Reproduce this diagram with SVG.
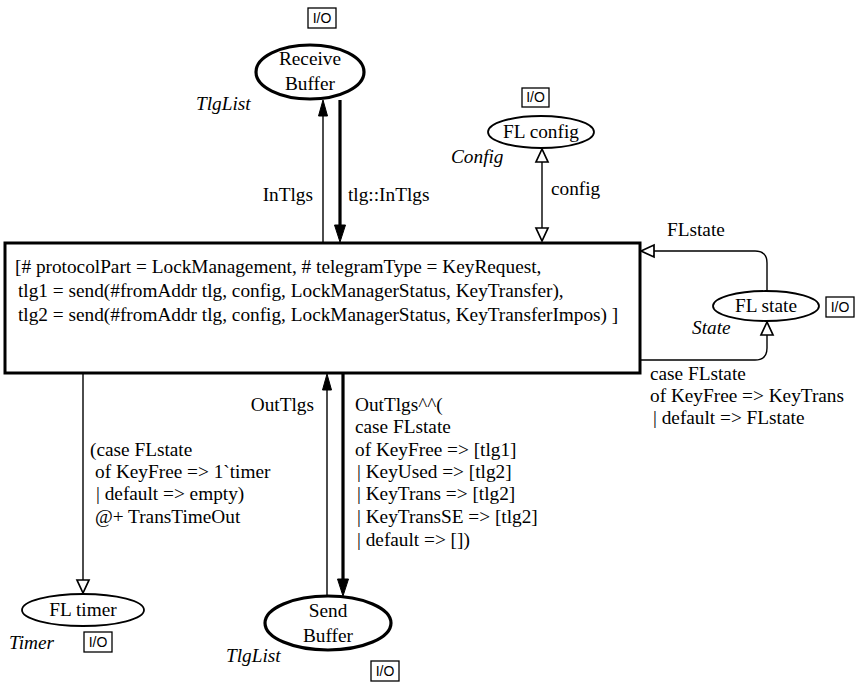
<svg xmlns="http://www.w3.org/2000/svg" width="858" height="685" viewBox="0 0 858 685">
<style>
text{font-family:"Liberation Serif","Times New Roman",serif;font-size:19.3px;fill:#000}
.it{font-style:italic}
.io{font-family:"Liberation Sans",Arial,sans-serif;font-size:14px}
.iobox{fill:#fff;stroke:#000;stroke-width:1.3}
.thin{fill:none;stroke:#000;stroke-width:1.4}
.thick{fill:none;stroke:#000;stroke-width:3.2}
.fh{fill:#000;stroke:#000;stroke-width:1}
.hh{fill:#fff;stroke:#000;stroke-width:1.7}
.pl{fill:#fff;stroke:#000;stroke-width:1.8}
.plt{fill:#fff;stroke:#000;stroke-width:3.2}
</style>
<rect width="858" height="685" fill="#fff"/>
<g id="connectors">
  <line class="thin" x1="323" y1="242" x2="323" y2="114"/>
  <polygon class="fh" points="323,100 318.5,116 327.5,116"/>
  <line class="thick" x1="340" y1="100" x2="340" y2="228"/>
  <polygon class="fh" points="340,242 334.5,225 345.5,225"/>
  <text x="313" y="201" text-anchor="end">InTlgs</text>
  <text x="348" y="201">tlg::InTlgs</text>

  <line class="thin" x1="542" y1="160" x2="542" y2="230"/>
  <polygon class="hh" points="542,149 536,162 548,162"/>
  <polygon class="hh" points="542,241 536,228 548,228"/>
  <text x="551" y="195">config</text>

  <path class="thin" d="M767,291 V263 Q767,251 755,251 H652"/>
  <polygon class="hh" points="641,251 654,245 654,257"/>
  <text x="667" y="236">FLstate</text>

  <path class="thin" d="M640,360 H755 Q767,360 767,348 V333"/>
  <polygon class="hh" points="767,322 761,335 773,335"/>
  <text x="650" y="380">case FLstate</text>
  <text x="650" y="402">of KeyFree =&gt; KeyTrans</text>
  <text x="653" y="424">| default =&gt; FLstate</text>

  <line class="thin" x1="83" y1="374" x2="83" y2="582"/>
  <polygon class="hh" points="83,593 77,580 89,580"/>
  <text x="90" y="456">(case FLstate</text>
  <text x="95" y="478">of KeyFree =&gt; 1`timer</text>
  <text x="96" y="500">| default =&gt; empty)</text>
  <text x="95" y="523">@+ TransTimeOut</text>

  <line class="thin" x1="327" y1="596" x2="327" y2="388"/>
  <polygon class="fh" points="327,374 322.5,390 331.5,390"/>
  <line class="thick" x1="343" y1="374" x2="343" y2="582"/>
  <polygon class="fh" points="343,596 337.5,579 348.5,579"/>
  <text x="314" y="411" text-anchor="end">OutTlgs</text>
  <text x="355" y="411">OutTlgs^^(</text>
  <text x="355" y="433">case FLstate</text>
  <text x="355" y="456">of KeyFree =&gt; [tlg1]</text>
  <text x="357" y="478">| KeyUsed =&gt; [tlg2]</text>
  <text x="357" y="500">| KeyTrans =&gt; [tlg2]</text>
  <text x="357" y="523">| KeyTransSE =&gt; [tlg2]</text>
  <text x="357" y="546">| default =&gt; [])</text>
</g>
<g id="transition">
  <rect x="5" y="243" width="635" height="130" fill="#fff" stroke="#000" stroke-width="3"/>
  <text x="15" y="273">[# protocolPart = LockManagement, # telegramType = KeyRequest,</text>
  <text x="18" y="297">tlg1 = send(#fromAddr tlg, config, LockManagerStatus, KeyTransfer),</text>
  <text x="18" y="321">tlg2 = send(#fromAddr tlg, config, LockManagerStatus, KeyTransferImpos) ]</text>
</g>
<g id="receive-buffer">
  <ellipse class="plt" cx="310" cy="72" rx="54" ry="27"/>
  <text x="310" y="65" text-anchor="middle">Receive</text>
  <text x="310" y="90" text-anchor="middle">Buffer</text>
  <text class="it" x="196" y="110">TlgList</text>
  <rect class="iobox" x="308" y="8" width="28" height="20"/>
  <text class="io" x="322" y="23" text-anchor="middle">I/O</text>
</g>
<g id="fl-config">
  <ellipse class="pl" cx="541" cy="132" rx="53" ry="16"/>
  <text x="541" y="138" text-anchor="middle">FL config</text>
  <text class="it" x="451" y="163">Config</text>
  <rect class="iobox" x="522" y="88" width="27" height="19"/>
  <text class="io" x="535.5" y="102" text-anchor="middle">I/O</text>
</g>
<g id="fl-state">
  <ellipse class="pl" cx="766" cy="306" rx="53" ry="15"/>
  <text x="766" y="312" text-anchor="middle">FL state</text>
  <text class="it" x="692" y="334">State</text>
  <rect class="iobox" x="826" y="297" width="28" height="20"/>
  <text class="io" x="840" y="312" text-anchor="middle">I/O</text>
</g>
<g id="fl-timer">
  <ellipse class="pl" cx="83" cy="610" rx="61" ry="16"/>
  <text x="83" y="616" text-anchor="middle">FL timer</text>
  <text class="it" x="9" y="649">Timer</text>
  <rect class="iobox" x="84" y="632" width="28" height="20"/>
  <text class="io" x="98" y="647" text-anchor="middle">I/O</text>
</g>
<g id="send-buffer">
  <ellipse class="plt" cx="328" cy="623" rx="63" ry="27"/>
  <text x="328" y="617" text-anchor="middle">Send</text>
  <text x="328" y="642" text-anchor="middle">Buffer</text>
  <text class="it" x="226" y="662">TlgList</text>
  <rect class="iobox" x="371" y="661" width="28" height="20"/>
  <text class="io" x="385" y="676" text-anchor="middle">I/O</text>
</g>
</svg>
